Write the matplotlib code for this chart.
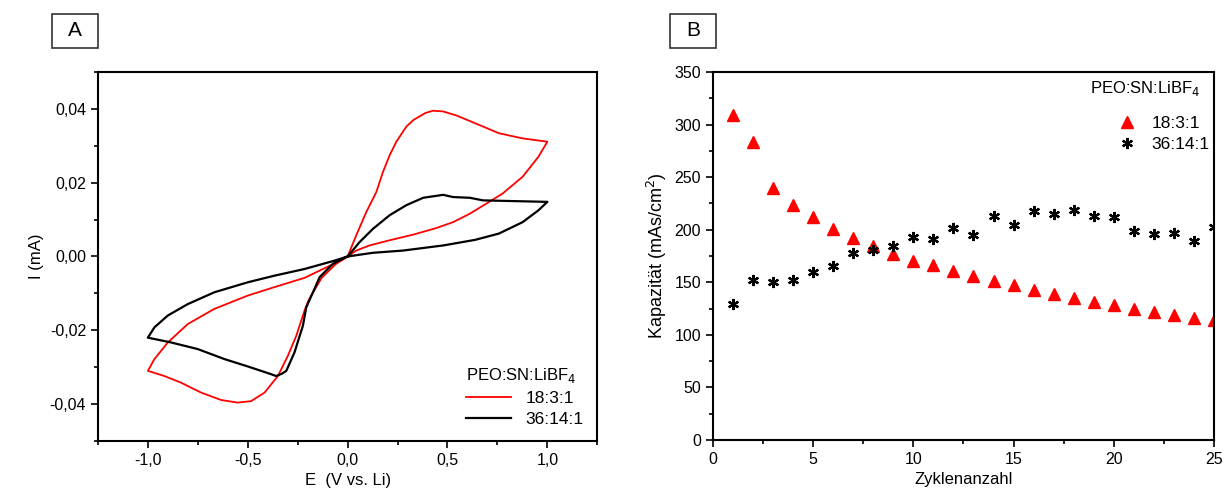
import numpy as np
import matplotlib
matplotlib.use("Agg")
import matplotlib.pyplot as plt
from matplotlib.ticker import MultipleLocator, FuncFormatter
from matplotlib.patches import Rectangle

plt.rcParams['font.family'] = ['Liberation Sans', 'DejaVu Sans']

# ---- Panel A: cyclic voltammograms (in scan order)
red_E = [0.0, 0.043, 0.094, 0.144, 0.177, 0.211, 0.244, 0.294, 0.33, 0.39, 0.428, 0.478, 0.545,
         0.612, 0.678, 0.757, 0.876, 1.0,
         0.955, 0.876, 0.777, 0.70, 0.612, 0.528, 0.444, 0.327, 0.211, 0.110, 0.043, 0.0,
         -0.10, -0.216, -0.366, -0.5, -0.667, -0.8, -0.9, -0.967, -1.0,
         -0.917, -0.834, -0.733, -0.633, -0.55, -0.483, -0.416, -0.349, -0.299, -0.257,
         -0.216, -0.195, -0.13, -0.06, 0.0]
red_I = [0.0, 0.0057, 0.0121, 0.0175, 0.0229, 0.0275, 0.0311, 0.0352, 0.0370, 0.0389, 0.0395, 0.0393, 0.0382,
         0.0367, 0.0352, 0.0334, 0.032, 0.0311,
         0.027, 0.0216, 0.0171, 0.0145, 0.0116, 0.0093, 0.0077, 0.0059, 0.0044, 0.003, 0.0016, 0.0,
         -0.0028, -0.0058, -0.0083, -0.0106, -0.0142, -0.0183, -0.0233, -0.0278, -0.031,
         -0.0324, -0.0342, -0.0369, -0.0389, -0.0396, -0.0392, -0.0369, -0.0324, -0.0269, -0.0215,
         -0.0147, -0.0118, -0.0058, -0.0021, 0.0]

black_E = [0.0, 0.06, 0.127, 0.211, 0.294, 0.378, 0.478, 0.528, 0.612, 0.678, 0.836, 1.0,
           0.955, 0.876, 0.757, 0.638, 0.48, 0.277, 0.127, 0.0,
           -0.07, -0.216, -0.366, -0.5, -0.667, -0.8, -0.9, -0.967, -1.0,
           -0.884, -0.75, -0.617, -0.5, -0.383, -0.358, -0.33, -0.307, -0.266, -0.224,
           -0.207, -0.14, -0.074, 0.0]
black_I = [0.0, 0.0039, 0.0075, 0.0112, 0.0139, 0.0159, 0.0167, 0.0161, 0.0159, 0.0152, 0.015, 0.0148,
           0.0125, 0.0093, 0.0062, 0.0045, 0.003, 0.0016, 0.001, 0.0,
           -0.0012, -0.0034, -0.0052, -0.007, -0.0097, -0.0129, -0.016, -0.0192, -0.022,
           -0.0233, -0.0251, -0.0278, -0.0298, -0.0319, -0.0324, -0.0318, -0.031, -0.026, -0.0188,
           -0.0138, -0.0056, -0.002, 0.0]

# ---- Panel B: capacity vs cycle number
cycles = list(range(1, 26))
cap_18 = [309, 283.6, 240, 223.6, 212.5, 201, 192.5, 184.6, 177, 170.4, 166, 160.3, 155.9,
          150.8, 147, 142.3, 138.5, 134.7, 130.9, 128, 124.2, 121.7, 118.6, 116.3, 114.1]
cap_36 = [129, 152.4, 150.2, 152.4, 160, 165, 177.4, 180.8, 184.6, 193.2, 191.3, 201.7, 195,
          213, 204.5, 217.8, 215, 219, 213, 211.8, 198.9, 196, 196.6, 189.7, 203]

legend_title = 'PEO:SN:LiBF$_4$'
labels = ['18:3:1', '36:14:1']

W, H = 1224, 498
fig = plt.figure(figsize=(W / 100, H / 100), dpi=100)
axA = fig.add_axes([0.080, 0.1145, 0.408, 0.741])
axB = fig.add_axes([0.5825, 0.1165, 0.4093, 0.739])

for ax in (axA, axB):
    for s in ax.spines.values():
        s.set_linewidth(1.5)
    ax.tick_params(which='both', direction='out', top=False, right=False, labelsize=11.5)
    ax.tick_params(which='major', length=5, width=1.2)
    ax.tick_params(which='minor', length=3, width=1.2)

def comma(fmt):
    return FuncFormatter(lambda v, p: (fmt % (0 if abs(v) < 1e-9 else v)).replace('.', ','))

# panel A
axA.plot(red_E, red_I, color='red', lw=1.3, label=labels[0])
axA.plot(black_E, black_I, color='black', lw=1.6, label=labels[1])
axA.set_xlim(-1.25, 1.25)
axA.set_ylim(-0.05, 0.05)
axA.xaxis.set_major_locator(MultipleLocator(0.5))
axA.xaxis.set_minor_locator(MultipleLocator(0.25))
axA.yaxis.set_major_locator(MultipleLocator(0.02))
axA.yaxis.set_minor_locator(MultipleLocator(0.01))
axA.xaxis.set_major_formatter(comma('%.1f'))
axA.yaxis.set_major_formatter(comma('%.2f'))
axA.set_xlabel('E  (V vs. Li)', fontsize=12)
axA.set_ylabel('I (mA)', fontsize=12)
axA.legend(title=legend_title, loc='lower right', frameon=False, fontsize=12.5,
           title_fontsize=12, handlelength=2.6, alignment='left',
           borderaxespad=0.4, labelspacing=0.35)

# panel B
axB.plot(cycles, cap_18, linestyle='none', marker='^', color='red', markersize=9, label=labels[0])
axB.plot(cycles, cap_36, linestyle='none', marker=(6, 2, 0), color='black', markersize=8,
         markeredgewidth=1.6, label=labels[1])
axB.set_xlim(0, 25)
axB.set_ylim(0, 350)
axB.xaxis.set_major_locator(MultipleLocator(5))
axB.xaxis.set_minor_locator(MultipleLocator(2.5))
axB.yaxis.set_major_locator(MultipleLocator(50))
axB.yaxis.set_minor_locator(MultipleLocator(25))
axB.set_xlabel('Zyklenanzahl', fontsize=12)
axB.set_ylabel('Kapazität (mAs/cm$^2$)', fontsize=13)
axB.legend(loc='upper left', bbox_to_anchor=(1113 / W, 1 - 116 / H),
           bbox_transform=fig.transFigure, frameon=False, fontsize=12.5,
           borderaxespad=0, borderpad=0, handlelength=1.6, handletextpad=0.6,
           labelspacing=0.35)
fig.text(1090 / W, 1 - 89 / H, legend_title, ha='left', va='center', fontsize=12)

# boxed panel letters
for x0, letter in ((52, 'A'), (670, 'B')):
    fig.patches.append(Rectangle((x0 / W, 1 - 48 / H), 46 / W, 34 / H,
                                 transform=fig.transFigure, fill=False,
                                 edgecolor='#333333', lw=1.2))
    fig.text((x0 + 23) / W, 1 - 31 / H, letter, ha='center', va='center', fontsize=15)

fig.savefig('out.png', dpi=100)
